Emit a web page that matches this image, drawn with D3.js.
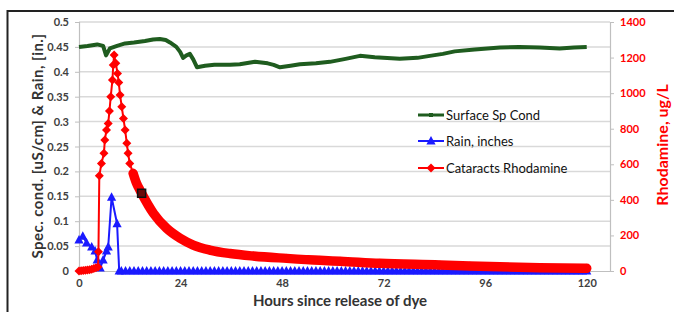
<!DOCTYPE html>
<html>
<head>
  <script src="https://d3js.org/d3.v7.min.js"></script>
  <style>
    body { margin: 0; background: #fff; }
    text { font-family: Lato, "Open Sans", sans-serif; }
  </style>
</head>
<body>
  <div id="chart"></div>

  <script>
    // Surface specific conductance (left axis)
    var condHours = [0, 2, 4.3, 5.7, 6.4, 7.3, 9, 10.9, 13, 15.6, 17.5, 19.1, 20.5, 21.5, 23, 23.9, 24.6, 25.4, 26.2, 27, 27.9, 29.8, 32, 35.7, 38, 41.6, 44.6, 46, 47.5, 50, 52.2, 56, 59.3, 63, 66.4, 69.9, 75.8, 80, 82.9, 86, 88.8, 93.5, 99.5, 104, 108.9, 113.6, 117, 120];
    var condValues = [0.450, 0.452, 0.455, 0.452, 0.433, 0.447, 0.452, 0.457, 0.459, 0.462, 0.465, 0.466, 0.464, 0.459, 0.450, 0.440, 0.428, 0.433, 0.436, 0.425, 0.409, 0.412, 0.414, 0.414, 0.415, 0.420, 0.417, 0.414, 0.409, 0.412, 0.415, 0.417, 0.420, 0.426, 0.432, 0.429, 0.426, 0.428, 0.432, 0.436, 0.441, 0.445, 0.449, 0.450, 0.449, 0.447, 0.449, 0.450];

    // Rain, inches (left axis)
    var rainHours = [0, 0.9, 1.8, 3.0, 3.8, 4.3, 5.0, 5.7, 6.5, 6.9, 7.7, 9.0, 9.5];
    var rainValues = [0.062, 0.07, 0.056, 0.048, 0.04, 0.022, 0.006, 0.022, 0.04, 0.048, 0.148, 0.095, 0];
    // hours with zero rain after the storm
    var rainZeroHours = [10, 11, 12, 13, 14, 15, 16, 17, 18, 19, 20, 21, 22, 23, 24, 25, 26, 27, 28, 29, 30, 31, 32, 33, 34, 35, 36, 37, 38, 39, 40, 41, 42, 43, 44, 45, 46, 47, 48, 49, 50, 51, 52, 53, 54, 55, 56, 57, 58, 59, 60, 61, 62, 63, 64, 65, 66, 67, 68, 69, 70, 71, 72, 73, 74, 75, 76, 77, 78, 79, 80, 81, 82, 83, 84, 85, 86, 87, 88, 89, 90, 91, 92, 93, 94, 95, 96, 97, 98, 99, 100, 101, 102, 103, 104, 105, 106, 107, 108, 109, 110, 111, 112, 113, 114, 115, 116, 117, 118, 119, 120];

    // Cataracts Rhodamine, ug/L (right axis)
    var rhodHours = [0, 0.5, 1, 1.5, 2, 2.5, 3, 3.5, 4, 4.5, 4.6, 4.8, 5.3, 5.9, 6.1, 6.5, 6.9, 7.2, 7.5, 7.9, 8.1, 8.3, 8.7, 9.1, 9.4, 9.7, 10.1, 10.5, 10.9, 11.3, 11.6, 12.0, 12.8, 13.6, 14.4, 14.8, 17.6, 20.7, 23.9, 27.0, 30.9, 35.7, 41.2, 49.1, 56.9, 61.7, 71.1, 85.3, 92.4, 108.9, 120];
    var rhodValues = [0, 2, 3, 4, 5, 7, 10, 14, 18, 22, 108, 535, 605, 662, 737, 793, 830, 900, 980, 1074, 1158, 1214, 1168, 1111, 1060, 990, 924, 858, 793, 718, 662, 605, 549, 493, 455, 437, 324, 240, 184, 146, 118, 98, 84, 71, 60, 55, 43, 34, 28, 18, 15];
    var highlightHour = 14.8, highlightValue = 437;

    var leftTicks = [0, 0.05, 0.1, 0.15, 0.2, 0.25, 0.3, 0.35, 0.4, 0.45, 0.5];
    var rightTicks = [0, 200, 400, 600, 800, 1000, 1200, 1400];
    var hourTicks = [0, 24, 48, 72, 96, 120];

    var seriesNames = ["Surface Sp Cond", "Rain, inches", "Cataracts Rhodamine"];
    var seriesColors = ["#1f5c1f", "#1a1aff", "#ff0000"];

    var width = 674, height = 312;
    var plot = { left: 79, right: 610, top: 22, bottom: 271 };

    var svg = d3.select("#chart")
      .append("svg")
      .attr("width", width)
      .attr("height", height);

    var x = d3.scaleLinear().domain([0, 125.5]).range([plot.left, plot.right]);
    var yL = d3.scaleLinear().domain([0, 0.5]).range([plot.bottom, plot.top]);
    var yR = d3.scaleLinear().domain([0, 1400]).range([plot.bottom, plot.top]);

    // frame
    svg.append("path")
      .attr("d", "M7.5," + height + "V11H" + width)
      .attr("fill", "none")
      .attr("stroke", "#222")
      .attr("stroke-width", 2);

    // gridlines
    svg.selectAll(".grid")
      .data(leftTicks.slice(1))
      .enter()
      .append("line")
      .attr("x1", plot.left).attr("x2", plot.right)
      .attr("y1", function(d) { return yL(d); })
      .attr("y2", function(d) { return yL(d); })
      .attr("stroke", "#d9d9d9")
      .attr("stroke-width", 1.5);

    // axes
    var fmt = function(d) { return String(+d.toFixed(2)); };
    var gLeft = svg.append("g")
      .attr("transform", "translate(" + plot.left + ",0)")
      .call(d3.axisLeft(yL).tickValues(leftTicks).tickSize(4).tickPadding(6).tickFormat(fmt));
    var gRight = svg.append("g")
      .attr("transform", "translate(" + plot.right + ",0)")
      .call(d3.axisRight(yR).tickValues(rightTicks).tickSize(4).tickPadding(6).tickFormat(d3.format("d")));
    var gBottom = svg.append("g")
      .attr("transform", "translate(0," + plot.bottom + ")")
      .call(d3.axisBottom(x).tickValues(hourTicks).tickSize(0).tickPadding(8));

    [gLeft, gRight, gBottom].forEach(function(g) {
      g.select(".domain").attr("stroke", "#bfbfbf").attr("stroke-width", 1.2);
      g.selectAll(".tick line").attr("stroke", "#bfbfbf");
      g.selectAll("text")
        .style("font-family", "Lato, sans-serif")
        .style("font-size", "11px")
        .style("font-weight", "bold")
        .attr("fill", "#404040");
    });
    gRight.selectAll("text").attr("fill", "#ff0000");

    // Rain series
    var rainLine = d3.line()
      .x(function(d, i) { return x(rainHours[i]); })
      .y(function(d) { return yL(d); });

    var triangle = "M0,-5L4.6,3.5L-4.6,3.5Z";
    var diamond = "M0,-4.5L4.5,0L0,4.5L-4.5,0Z";

    svg.append("path")
      .attr("d", rainLine(rainValues))
      .attr("fill", "none")
      .attr("stroke", seriesColors[1])
      .attr("stroke-width", 2);
    svg.append("line")
      .attr("x1", x(rainHours[rainHours.length - 1])).attr("x2", x(120))
      .attr("y1", yL(0) + 1).attr("y2", yL(0) + 1)
      .attr("stroke", seriesColors[1])
      .attr("stroke-width", 4);
    svg.selectAll(".rainPt")
      .data(rainValues)
      .enter()
      .append("path")
      .attr("d", triangle)
      .attr("transform", function(d, i) { return "translate(" + x(rainHours[i]) + "," + yL(d) + ")"; })
      .attr("fill", seriesColors[1]);
    svg.selectAll(".rainZero")
      .data(rainZeroHours)
      .enter()
      .append("path")
      .attr("d", triangle)
      .attr("transform", function(d) { return "translate(" + x(d) + "," + yL(0) + ")"; })
      .attr("fill", seriesColors[1]);

    // Rhodamine series
    var rhodLine = d3.line()
      .x(function(d, i) { return x(rhodHours[i]); })
      .y(function(d) { return yR(d); });

    svg.append("path")
      .attr("d", rhodLine(rhodValues))
      .attr("fill", "none")
      .attr("stroke", seriesColors[2])
      .attr("stroke-width", 2);

    // dense markers in the tail merge into a thick band
    var tailStart = rhodHours.indexOf(12.8);
    var tailLine = d3.line()
      .x(function(d) { return x(rhodHours[d]); })
      .y(function(d) { return yR(rhodValues[d]); })
      .curve(d3.curveMonotoneX);
    svg.append("path")
      .attr("d", tailLine(d3.range(tailStart, rhodHours.length)))
      .attr("fill", "none")
      .attr("stroke", seriesColors[2])
      .attr("stroke-width", 9.5)
      .attr("stroke-linecap", "round");

    svg.selectAll(".rhodPt")
      .data(rhodValues)
      .enter()
      .append("path")
      .attr("d", diamond)
      .attr("transform", function(d, i) { return "translate(" + x(rhodHours[i]) + "," + yR(d) + ")"; })
      .attr("fill", seriesColors[2]);

    svg.append("rect")
      .attr("x", x(highlightHour) - 4).attr("y", yR(highlightValue) - 4)
      .attr("width", 8).attr("height", 8)
      .attr("fill", "#6a0a0a")
      .attr("stroke", "#111")
      .attr("stroke-width", 1.5);

    // Surface Sp Cond series
    var condLine = d3.line()
      .x(function(d, i) { return x(condHours[i]); })
      .y(function(d) { return yL(d); });

    svg.append("path")
      .attr("d", condLine(condValues))
      .attr("fill", "none")
      .attr("stroke", seriesColors[0])
      .attr("stroke-width", 4)
      .attr("stroke-linejoin", "round");

    // legend
    var legend = svg.selectAll(".legend")
      .data(seriesNames)
      .enter()
      .append("g")
      .attr("class", "legend")
      .attr("transform", function(d, i) { return "translate(418," + [115, 141, 168][i] + ")"; });

    legend.append("line")
      .attr("x1", 0).attr("x2", 26)
      .attr("stroke", function(d, i) { return seriesColors[i]; })
      .attr("stroke-width", function(d, i) { return i === 0 ? 3 : 2; });
    legend.append("path")
      .attr("d", function(d, i) { return i === 0 ? "M-2,-2H2V2H-2Z" : (i === 1 ? triangle : diamond); })
      .attr("transform", "translate(13,0)")
      .attr("fill", function(d, i) { return seriesColors[i]; });
    legend.append("text")
      .attr("x", 28)
      .attr("dy", "0.35em")
      .style("font-size", "13px")
      .attr("fill", "#111")
      .text(function(d) { return d; });

    // axis titles
    svg.append("text")
      .attr("transform", "translate(43,146) rotate(-90)")
      .attr("text-anchor", "middle")
      .style("font-size", "15px")
      .style("font-weight", "bold")
      .style("letter-spacing", "0.45px")
      .attr("fill", "#333")
      .text("Spec. cond. [uS/cm] &  Rain, [in.]");

    svg.append("text")
      .attr("transform", "translate(668,145) rotate(-90)")
      .attr("text-anchor", "middle")
      .style("font-size", "16px")
      .style("font-weight", "bold")
      .attr("fill", "#ff0000")
      .text("Rhodamine, ug/L");

    svg.append("text")
      .attr("x", 340)
      .attr("y", 306)
      .attr("text-anchor", "middle")
      .style("font-size", "15px")
      .style("font-weight", "bold")
      .attr("fill", "#333")
      .text("Hours since release of dye");
  </script>
</body>
</html>
